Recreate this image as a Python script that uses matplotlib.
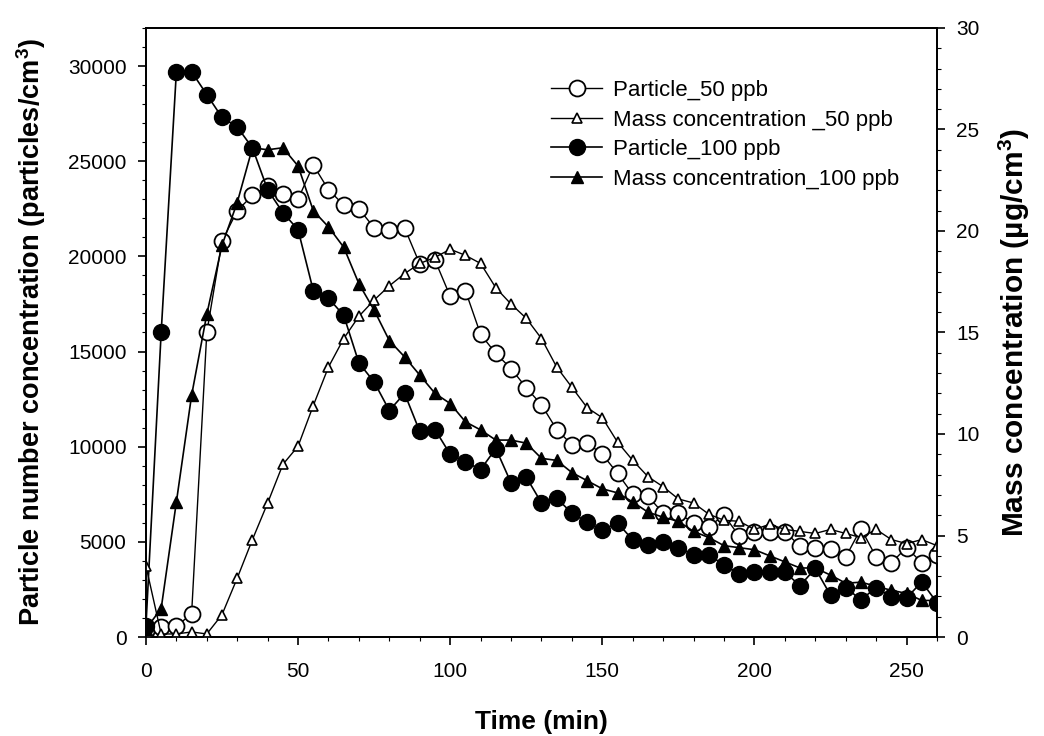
import matplotlib
matplotlib.use('Agg')
import matplotlib.pyplot as plt
from matplotlib.ticker import MultipleLocator
import numpy as np

plt.rcParams['font.family'] = ['Liberation Sans', 'DejaVu Sans']
plt.rcParams['mathtext.fontset'] = 'custom'
plt.rcParams['mathtext.rm'] = 'Liberation Sans:bold'
plt.rcParams['mathtext.default'] = 'rm'

# time in minutes, 5 min steps
time_min = np.arange(0, 261, 5)

# particle number concentration (particles/cm3), 50 ppb
particle_50 = np.array([0.3, 0.5, 0.58, 1.2, 16.0, 20.8, 22.4, 23.2, 23.7, 23.3,
                        23.0, 24.8, 23.5, 22.7, 22.5, 21.5, 21.4, 21.5, 19.6, 19.8,
                        17.9, 18.2, 15.9, 14.9, 14.1, 13.1, 12.2, 10.9, 10.1, 10.2,
                        9.6, 8.6, 7.5, 7.4, 6.5, 6.5, 6.0, 5.8, 6.4, 5.3,
                        5.5, 5.5, 5.5, 4.8, 4.7, 4.6, 4.2, 5.7, 4.2, 3.9,
                        4.7, 3.9, 4.3]) * 1000

# mass concentration (ug/cm3), 50 ppb
mass_50 = [3.5, 0.15, 0.15, 0.25, 0.15, 1.1, 2.9, 4.8, 6.6, 8.5,
           9.4, 11.4, 13.3, 14.7, 15.8, 16.6, 17.3, 17.9, 18.4, 18.7,
           19.1, 18.8, 18.4, 17.2, 16.4, 15.7, 14.7, 13.3, 12.3, 11.3,
           10.8, 9.6, 8.7, 7.9, 7.4, 6.8, 6.6, 6.05, 5.75, 5.7,
           5.3, 5.55, 5.3, 5.2, 5.1, 5.3, 5.1, 4.9, 5.3, 4.8,
           4.6, 4.8, 4.5]

# particle number concentration, 100 ppb
particle_100 = np.array([0.6, 16.0, 29.7, 29.7, 28.5, 27.3, 26.8, 25.7, 23.5, 22.3,
                         21.4, 18.2, 17.8, 16.9, 14.4, 13.4, 11.9, 12.8, 10.8, 10.9,
                         9.6, 9.2, 8.8, 9.9, 8.1, 8.4, 7.05, 7.3, 6.5, 6.05,
                         5.6, 6.0, 5.1, 4.85, 5.0, 4.7, 4.3, 4.3, 3.8, 3.3,
                         3.4, 3.4, 3.4, 2.7, 3.6, 2.2, 2.6, 1.95, 2.6, 2.1,
                         2.05, 2.9, 1.8]) * 1000

# mass concentration, 100 ppb
mass_100 = [0.4, 1.4, 6.65, 11.9, 15.9, 19.3, 21.4, 24.1, 24.0, 24.1,
            23.2, 21.0, 20.2, 19.2, 17.4, 16.1, 14.6, 13.8, 12.9, 12.0,
            11.5, 10.6, 10.2, 9.7, 9.7, 9.55, 8.8, 8.7, 8.1, 7.7,
            7.3, 7.1, 6.65, 6.15, 5.9, 5.7, 5.2, 4.9, 4.5, 4.4,
            4.3, 4.0, 3.7, 3.4, 3.4, 3.05, 2.65, 2.7, 2.5, 2.3,
            2.15, 1.8, 1.8]

fig = plt.figure(figsize=(10.44, 7.36), dpi=100)
ax = fig.add_axes([0.1398, 0.1345, 0.7577, 0.8275])
ax2 = ax.twinx()

l1, = ax.plot(time_min, particle_50, 'k-', lw=1.0, marker='o', ms=11.5,
              mfc='white', mec='black', mew=1.3, label='Particle_50 ppb', zorder=3)
l3, = ax.plot(time_min, particle_100, 'k-', lw=1.2, marker='o', ms=11.5,
              mfc='black', mec='black', label='Particle_100 ppb', zorder=4)
l2, = ax2.plot(time_min, mass_50, 'k-', lw=1.0, marker='^', ms=7.5,
               mfc='white', mec='black', mew=1.2, label='Mass concentration _50 ppb')
l4, = ax2.plot(time_min, mass_100, 'k-', lw=1.2, marker='^', ms=9,
               mfc='black', mec='black', label='Mass concentration_100 ppb')

ax.set_xlim(0, 260)
ax.set_ylim(0, 32000)
ax2.set_ylim(0, 30)

ax.set_xticks([0, 50, 100, 150, 200, 250])
ax.xaxis.set_minor_locator(MultipleLocator(10))
ax.set_yticks([0, 5000, 10000, 15000, 20000, 25000, 30000])
ax.yaxis.set_minor_locator(MultipleLocator(1000))
ax2.set_yticks([0, 5, 10, 15, 20, 25, 30])
ax2.yaxis.set_minor_locator(MultipleLocator(1))

for a in (ax, ax2):
    a.tick_params(which='major', direction='out', length=6, width=1.2, labelsize=15, pad=8)
    a.tick_params(which='minor', direction='out', length=3, width=0.8)
    for s in a.spines.values():
        s.set_linewidth(1.3)
ax.tick_params(axis='x', which='major', pad=12)

ax.set_xlabel('Time (min)', fontsize=19, fontweight='bold', labelpad=21)
ax.set_ylabel('Particle number concentration (particles/cm$^3$)', fontsize=19.5,
              fontweight='bold', labelpad=14)
ax2.set_ylabel('Mass concentration (\u00b5g/cm$^3$)', fontsize=21.5,
               fontweight='bold', labelpad=12)

ax2.legend((l1, l2, l3, l4), [l.get_label() for l in (l1, l2, l3, l4)],
           loc='upper left', bbox_to_anchor=(0.487, 0.947), frameon=False,
           fontsize=16, handlelength=2.3, handletextpad=0.5, labelspacing=0.38)

fig.savefig('out.png', dpi=100)
